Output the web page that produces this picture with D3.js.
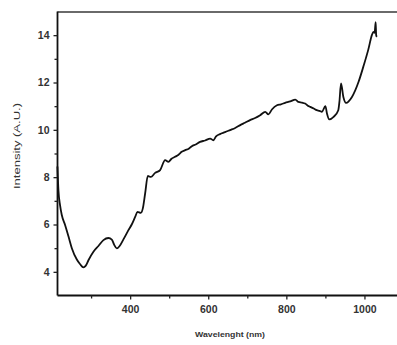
<!DOCTYPE html>
<html><head><meta charset="utf-8">
<script src="https://cdn.jsdelivr.net/npm/d3@7"></script>
<style>body{margin:0;background:#fff}svg{display:block}</style>
</head><body><svg id="c" width="397" height="345"></svg>
<script>
const wavelength = [213.8,216.4,220.7,225,233.6,242,250.7,263.5,272,280.4,286,293.2,306,318.8,331.6,344.4,353.1,359,366,372.6,382.8,395.6,404.4,412.8,418.7,427.4,432.5,438.4,445.3,453,464,476.8,489.6,498,506,515,524,532,541,550,558,568,579,592,605,613,620,630,643,656,669,682,694,707,720,733,746,754,763,776,786,797,810,823,831,840,848,855,861,870,878,885,891,900,904,910,921,933,936,940,946,953,968,985,997,1010,1019,1023,1026,1028.7,1030,1031.7];
const intensity  = [8.45,7.45,6.8,6.4,5.97,5.5,5.0,4.52,4.32,4.19,4.25,4.49,4.85,5.09,5.34,5.43,5.36,5.15,4.99,5.08,5.37,5.76,6.01,6.32,6.53,6.49,6.68,7.31,8.05,8.01,8.18,8.3,8.72,8.65,8.78,8.86,8.95,9.07,9.14,9.2,9.31,9.38,9.49,9.55,9.63,9.56,9.72,9.82,9.9,9.99,10.08,10.2,10.3,10.41,10.5,10.62,10.76,10.65,10.86,11.04,11.08,11.14,11.2,11.28,11.18,11.15,11.11,11.02,10.97,10.9,10.83,10.8,10.76,11.0,10.69,10.44,10.55,10.83,11.2,11.96,11.39,11.14,11.39,12.03,12.66,13.4,14.0,14.14,14.1,14.55,14.0,13.93];
const xTicks = [400,600,800,1000];
const xMinor = [300,500,700,900];
const yTicks = [4,6,8,10,12,14];
const yMinor = [5,7,9,11,13];
const xTitle = "Wavelenght (nm)";
const yTitle = "Intensity (A.U.)";

const svg = d3.select("#c");
const x = d3.scaleLinear().domain([214,1100]).range([57.5,403.5]);
const y = d3.scaleLinear().domain([3,15]).range([295.5,11.5]);

svg.append("line").attr("x1",57.5).attr("x2",397).attr("y1",12).attr("y2",12)
  .attr("stroke","#6a6a6a").attr("stroke-width",2);

const gx = svg.append("g").attr("transform","translate(0,295.5)")
  .call(d3.axisBottom(x).tickValues(xTicks).tickSize(4).tickPadding(6).tickFormat(d3.format("d")));
const gxm = svg.append("g").attr("transform","translate(0,295.5)")
  .call(d3.axisBottom(x).tickValues(xMinor).tickSize(3).tickFormat(""));
const gy = svg.append("g").attr("transform","translate(57.5,0)")
  .call(d3.axisLeft(y).tickValues(yTicks).tickSize(4).tickPadding(4).tickFormat(d3.format("d")));
const gym = svg.append("g").attr("transform","translate(57.5,0)")
  .call(d3.axisLeft(y).tickValues(yMinor).tickSize(3).tickFormat(""));
[gx,gxm,gy,gym].forEach(g=>{
  g.select(".domain").attr("stroke","#111").attr("stroke-width",1.8);
  g.selectAll(".tick line").attr("stroke","#222").attr("stroke-width",1.3);
  g.selectAll("text").attr("font-family","Liberation Sans, Arial, sans-serif")
    .attr("font-size",10.5).attr("font-weight","bold").attr("fill","#333");
});
gxm.select(".domain").remove(); gym.select(".domain").remove();
gx.select(".domain").attr("d","M57.5,0H397");
gy.select(".domain").attr("d","M0,11.5V295.5");

svg.append("text").attr("x",230).attr("y",337).attr("text-anchor","middle")
  .attr("font-family","Liberation Sans, Arial, sans-serif").attr("font-size",7.5)
  .attr("font-weight","bold").attr("fill","#333")
  .attr("textLength",70).attr("lengthAdjust","spacingAndGlyphs").text(xTitle);
svg.append("text").attr("transform","translate(20,146) rotate(-90)").attr("text-anchor","middle")
  .attr("font-family","Liberation Sans, Arial, sans-serif").attr("font-size",9.5)
  .attr("fill","#333").attr("textLength",86).attr("lengthAdjust","spacingAndGlyphs").text(yTitle);

const data = wavelength.map((w,i)=>({w, v:intensity[i]}));
svg.append("path").datum(data)
  .attr("fill","none").attr("stroke","#111").attr("stroke-width",1.8)
  .attr("stroke-linejoin","round")
  .attr("d", d3.line().curve(d3.curveMonotoneX).x(d=>x(d.w)).y(d=>y(d.v)));
</script></body></html>
